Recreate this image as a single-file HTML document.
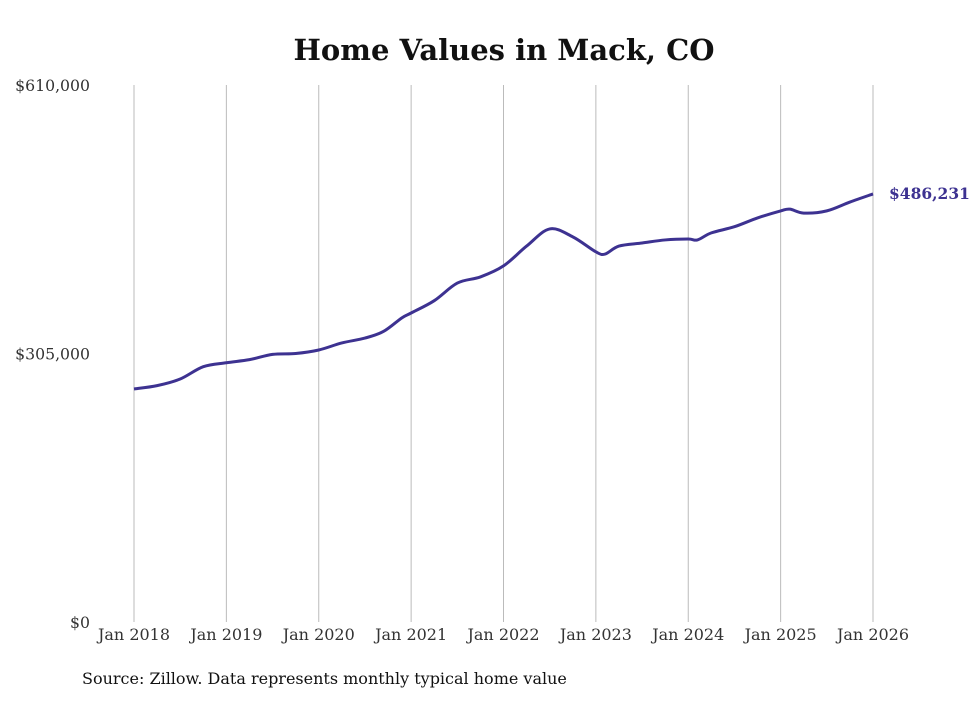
<!DOCTYPE html>
<html><head><meta charset="utf-8"><style>
body{margin:0;background:#fff;}
svg text{font-family:"DejaVu Serif","Liberation Serif",serif;}
</style></head><body>
<svg id="chart" width="980" height="699" xmlns="http://www.w3.org/2000/svg">
<text x="504" y="60" text-anchor="middle" font-size="29" font-weight="bold" fill="#111">Home Values in Mack, CO</text>
<g id="grid"></g><g id="yaxis"></g><g id="xaxis"></g>
<path id="line" fill="none" stroke="#3d3291" stroke-width="3" stroke-linejoin="round"/>
<text id="endlabel" font-size="15.5" font-weight="bold" fill="#3d3291"></text>
<text x="82" y="684" font-size="16" fill="#111">Source: Zillow. Data represents monthly typical home value</text>
</svg>
<script>
const years=[2018,2019,2020,2021,2022,2023,2024,2025,2026];
const yTicks=[0,305000,610000];
const yTickLabels=["$0","$305,000","$610,000"];
const dates=[2018,2018.25,2018.5,2018.75,2019,2019.25,2019.5,2019.75,2020,2020.25,2020.5,2020.7,2020.9,2021,2021.25,2021.5,2021.75,2022,2022.25,2022.5,2022.75,2023,2023.1,2023.25,2023.5,2023.75,2024,2024.1,2024.25,2024.5,2024.75,2025,2025.1,2025.25,2025.5,2025.75,2026];
const values=[264700,268500,276000,290000,294500,298000,304000,305000,309000,317000,322500,330000,345500,351000,365000,385000,392000,404500,427000,446500,437500,420500,418000,427000,430500,434000,435000,434000,442000,449000,459000,467000,469000,464500,467000,477000,486231];
const x0=134,x1=873,yb=622,yt=85;
const sx=d=>x0+(d-2018)/(2026-2018)*(x1-x0);
const sy=v=>yb-v/610000*(yb-yt);
const NS="http://www.w3.org/2000/svg";
const grid=document.getElementById('grid'),xa=document.getElementById('xaxis'),ya=document.getElementById('yaxis');
years.forEach(y=>{
 const l=document.createElementNS(NS,'line');
 
 
 l.setAttribute('x1',sx(y));l.setAttribute('x2',sx(y));l.setAttribute('y1',yt);l.setAttribute('y2',yb);
 l.setAttribute('stroke','#bbb');l.setAttribute('stroke-width','1');grid.appendChild(l);
 const t=document.createElementNS(NS,'text');
 
 
 t.setAttribute('x',sx(y));t.setAttribute('y',640);t.setAttribute('text-anchor','middle');t.setAttribute('font-size','16');t.setAttribute('fill','#333');
 t.textContent='Jan '+y;xa.appendChild(t);
});
yTicks.forEach((v,i)=>{
 const t=document.createElementNS(NS,'text');
 
 
 t.setAttribute('x',90);t.setAttribute('y',sy(v)+6);t.setAttribute('text-anchor','end');t.setAttribute('font-size','15.7');t.setAttribute('fill','#333');
 t.textContent=yTickLabels[i];ya.appendChild(t);
});
const pts=dates.map((d,i)=>[sx(d),sy(values[i])]);
let p='M'+pts[0][0]+','+pts[0][1];
for(let i=0;i<pts.length-1;i++){
 const a=pts[i-1]||pts[i],b=pts[i],c=pts[i+1],e=pts[i+2]||c;
 const c1=[b[0]+(c[0]-a[0])/6,b[1]+(c[1]-a[1])/6],c2=[c[0]-(e[0]-b[0])/6,c[1]-(e[1]-b[1])/6];
 p+=` C${c1[0]},${c1[1]} ${c2[0]},${c2[1]} ${c[0]},${c[1]}`;
}
document.getElementById('line').setAttribute('d',p);
const last=values[values.length-1],el=document.getElementById('endlabel');
el.setAttribute('x',sx(dates[dates.length-1])+16);el.setAttribute('y',sy(last)+5);
el.textContent='$'+last.toLocaleString('en-US');
</script>
</body></html>
